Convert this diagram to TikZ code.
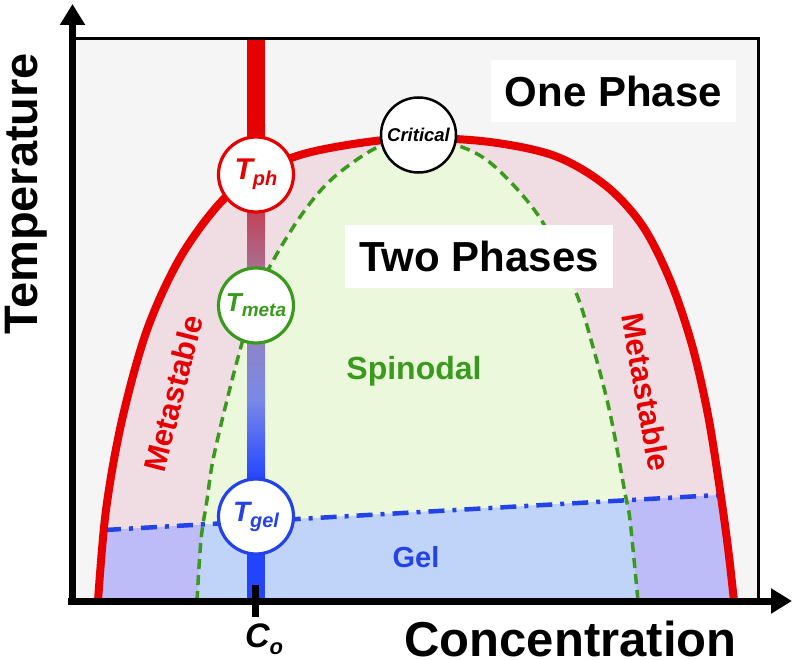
\documentclass[tikz,border=0pt]{standalone}
\usepackage{fontspec}
\setmainfont{Liberation Sans}
\usetikzlibrary{arrows.meta}
\definecolor{bggray}{HTML}{F5F5F5}
\definecolor{pinkfill}{HTML}{F0DDE4}
\definecolor{greenfill}{HTML}{EBF8DC}
\definecolor{gelblue}{HTML}{C0D4FA}
\definecolor{gelpurple}{HTML}{BEBCF8}
\definecolor{binred}{HTML}{E60000}
\definecolor{spgreen}{HTML}{3A9A1E}
\definecolor{gelcol}{HTML}{2342E8}
\definecolor{barmid}{HTML}{A080A8}
\definecolor{barlow}{HTML}{7A88E8}
\definecolor{barblue}{HTML}{2244FF}
\def\binodalpath{plot[smooth,tension=0.55] coordinates {(98,601) (106,510) (122,420) (147,330) (180,258) (220,203) (256,175) (300,155) (360,143) (418,138) (490,142) (555,156) (605,185) (642,225) (670,280) (692,345) (708,415) (720,490) (728,548) (734,601)}}
\def\spinodalpath{plot[smooth,tension=0.55] coordinates {(197,601) (201,540) (207,500) (213,460) (227,400) (242,343) (254,306) (268,270) (300,217) (333,178) (380,146) (418,141) (456,145) (493,165) (540,218) (575,290) (593,347) (610,413) (625,493) (630,520) (638,601)}}
\begin{document}
\begin{tikzpicture}[x=1pt,y=-1pt,
  axis/.style={line width=7pt, -{Triangle[length=21pt,width=24pt]}},
  binodal/.style={draw=binred, line width=8pt},
  spinodal/.style={draw=spgreen, line width=3.5pt, dash pattern=on 10pt off 6pt},
  gelline/.style={draw=gelcol, line width=4.5pt, dash pattern=on 16pt off 8pt on 4pt off 8pt},
  phasecirc/.style={circle, fill=white, line width=3.2pt, minimum size=75pt, inner sep=0pt},
  bigtext/.style={font=\fontsize{42}{42}\selectfont\bfseries, fill=white, inner sep=0pt},
  midtext/.style={font=\fontsize{31}{31}\selectfont\bfseries}
]
\useasboundingbox (0,0) rectangle (793,660);
% plot area
\fill[bggray] (72.5,38.8) rectangle (758,601);
\fill[pinkfill] \binodalpath -- cycle;
\fill[greenfill] \spinodalpath -- cycle;
\begin{scope}
  \clip \binodalpath -- cycle;
  \fill[gelpurple] (60,532.6) -- (770,492.1) -- (770,610) -- (60,610) -- cycle;
\end{scope}
\begin{scope}
  \clip \spinodalpath -- cycle;
  \fill[gelblue] (60,532.6) -- (770,492.1) -- (770,610) -- (60,610) -- cycle;
\end{scope}
% gel line
\coordinate (gelL) at (105,530);
\coordinate (gelR) at (722,494.8);
\draw[gelline] (gelL) -- (gelR);
% curves
\draw[spinodal] \spinodalpath;
\draw[binodal] \binodalpath;
% concentration bar
\fill[binred] (247,39) rectangle (265,125.5);
\shade[top color=binred, bottom color=barmid] (247,125) rectangle (265,290.5);
\shade[top color=barmid, bottom color=barlow] (247,290) rectangle (265,400.5);
\shade[top color=barlow, bottom color=barblue] (247,400) rectangle (265,480.5);
\fill[barblue] (247,480) rectangle (265,601);
% frame
\draw[line width=3pt] (71,38.8) -- (758,38.8) -- (758,601);
% axes
\coordinate (xstart) at (68,601);
\coordinate (xtip) at (792,601);
\coordinate (ystart) at (72.5,605);
\coordinate (ytip) at (72.5,4);
\draw[axis] (xstart) -- (xtip);
\draw[axis] (ystart) -- (ytip);
% tick
\coordinate (tickT) at (255,585);
\coordinate (tickB) at (255,617);
\draw[line width=7pt] (tickT) -- (tickB);
% circles
\node[phasecirc, draw=binred, text=binred] (tph) at (256,174.5)
  {\fontsize{30}{30}\selectfont\bfseries\itshape T\raisebox{-6pt}{\fontsize{20}{20}\selectfont ph}};
\node[phasecirc, draw=spgreen, text=spgreen] (tmeta) at (256,305.5)
  {\fontsize{26}{26}\selectfont\bfseries\itshape T\raisebox{-5pt}{\fontsize{19}{19}\selectfont meta}};
\node[phasecirc, draw=gelcol, text=gelcol] (tgel) at (256,516.5)
  {\fontsize{28}{28}\selectfont\bfseries\itshape T\raisebox{-6pt}{\fontsize{20}{20}\selectfont gel}};
\node[phasecirc, draw=black, line width=2.5pt] (crit) at (418.5,135)
  {\fontsize{18.5}{18.5}\selectfont\bfseries\itshape Critical};
% labels
\node[bigtext, minimum width=245pt, minimum height=62pt] (one) at (613.5,91) {One Phase};
\node[bigtext, minimum width=268pt, minimum height=63pt] (two) at (479,256.5) {Two Phases};
\node[font=\fontsize{32}{32}\selectfont\bfseries, text=spgreen, anchor=base] (spin) at (414,380) {Spinodal};
\node[font=\fontsize{29}{29}\selectfont\bfseries, text=gelcol, anchor=base] (gel) at (416,567) {Gel};
\node[midtext, text=binred, rotate=75.7] (metaL) at (173.5,393.5) {Metastable};
\node[midtext, text=binred, rotate=-79.9] (metaR) at (646,392) {Metastable};
\node[font=\fontsize{47}{47}\selectfont\bfseries, rotate=90, anchor=base] (ylab) at (37,193.5) {Temperature};
\node[font=\fontsize{49}{49}\selectfont\bfseries, anchor=base] (xlab) at (570.5,656) {Concentration};
\node[anchor=base] (co) at (264,647)
  {\fontsize{34}{34}\selectfont\bfseries\itshape C\raisebox{-7pt}{\fontsize{22}{22}\selectfont o}};
\end{tikzpicture}
\end{document}
